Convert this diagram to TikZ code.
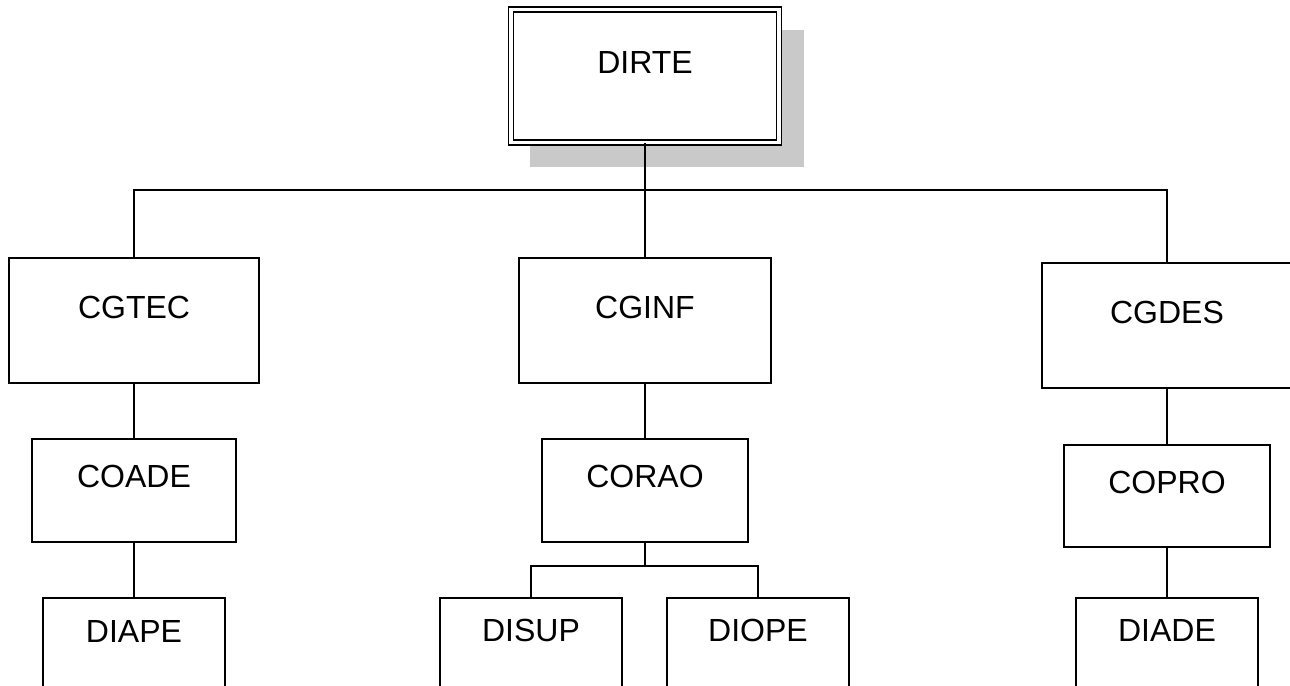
\documentclass[tikz,border=0pt]{standalone}
\usepackage{fontspec}
\setmainfont{Liberation Sans}
\usetikzlibrary{fit}
\begin{document}
\begin{tikzpicture}[x=0.75pt,y=-0.75pt,
  box/.style={draw=black, line width=1pt, fill=white, inner sep=0pt},
  topbox/.style={draw=black, line width=1pt, double=white, double distance=2.75pt, fill=white, inner sep=0pt},
  lbl/.style={anchor=base, inner sep=0pt, font=\fontsize{24}{28}\selectfont},
  conn/.style={draw=black, line width=1pt},
  shadowfill/.style={fill=black!21}]
\clip (0,0) rectangle (1290,686);
\fill[white] (0,0) rectangle (1290,686);
% shadow of top box
\fill[shadowfill] (530,30) rectangle (804,167);
% boxes
\node[topbox, fit={(511,9.5)(779,142.5)}] (dirte) {};
\node[box, fit={(9,258)(259,383)}] (cgtec) {};
\node[box, fit={(519,258)(771,383)}] (cginf) {};
\node[box, fit={(1042,263)(1292,388)}] (cgdes) {};
\node[box, fit={(32,439)(236,542)}] (coade) {};
\node[box, fit={(542,439)(748,542)}] (corao) {};
\node[box, fit={(1064,445)(1270,547)}] (copro) {};
\node[box, fit={(43,598)(225,720)}] (diape) {};
\node[box, fit={(440,598)(622,720)}] (disup) {};
\node[box, fit={(667,598)(849,720)}] (diope) {};
\node[box, fit={(1076,598)(1258,720)}] (diade) {};
% labels
\node[lbl] (tdirte) at (645,73) {DIRTE};
\node[lbl] (tcgtec) at (134,318) {CGTEC};
\node[lbl] (tcginf) at (645,318) {CGINF};
\node[lbl] (tcgdes) at (1167,323) {CGDES};
\node[lbl] (tcoade) at (134,487) {COADE};
\node[lbl] (tcorao) at (645,487) {CORAO};
\node[lbl] (tcopro) at (1167,493) {COPRO};
\node[lbl] (tdiape) at (134,642) {DIAPE};
\node[lbl] (tdisup) at (531,641) {DISUP};
\node[lbl] (tdiope) at (758,641) {DIOPE};
\node[lbl] (tdiade) at (1167,641) {DIADE};
% connectors
\coordinate (bus) at (645,190);
\coordinate (sub) at (645,566);
\draw[conn] (dirte.south) -- (bus);
\draw[conn] (cgtec.north) -- (cgtec.north |- bus) -- (cgdes.north |- bus) -- (cgdes.north);
\draw[conn] (bus) -- (cginf.north);
\draw[conn] (cgtec.south) -- (coade.north);
\draw[conn] (coade.south) -- (diape.north);
\draw[conn] (cginf.south) -- (corao.north);
\draw[conn] (corao.south) -- (sub);
\draw[conn] (disup.north) -- (disup.north |- sub) -- (diope.north |- sub) -- (diope.north);
\draw[conn] (cgdes.south) -- (copro.north);
\draw[conn] (copro.south) -- (diade.north);
\end{tikzpicture}
\end{document}
